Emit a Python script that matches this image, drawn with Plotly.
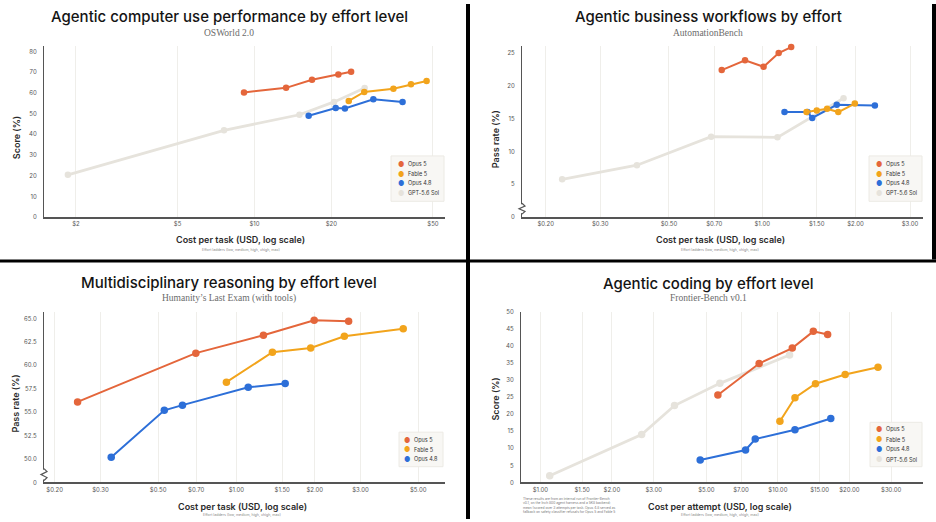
import plotly.graph_objects as go
from plotly.subplots import make_subplots

W, H = 936, 522

ORANGE = "#E4663B"
YELLOW = "#F2A41C"
BLUE = "#2D6FD8"
SOL = "#E6E3DC"

# --- Panel 1: OSWorld 2.0 ---
osw_opus5_x = [9.1, 13.3, 16.8, 21.3, 23.9]
osw_opus5_y = [60.2, 62.4, 66.3, 68.9, 70.2]
osw_fable5_x = [23.4, 26.9, 35.0, 41.0, 47.2]
osw_fable5_y = [56.1, 60.4, 62.0, 64.1, 65.7]
osw_opus48_x = [16.3, 20.8, 22.6, 29.2, 38.0]
osw_opus48_y = [48.9, 52.7, 52.4, 56.9, 55.6]
osw_sol_x = [1.86, 7.6, 15.0, 20.5, 27.0]
osw_sol_y = [20.4, 41.9, 49.4, 55.6, 62.3]

# --- Panel 2: AutomationBench ---
ab_opus5_x = [0.74, 0.88, 1.01, 1.13, 1.24]
ab_opus5_y = [22.4, 23.9, 22.9, 25.0, 25.9]
ab_fable5_x = [1.39, 1.50, 1.62, 1.76, 1.99]
ab_fable5_y = [16.0, 16.25, 16.5, 16.0, 17.3]
ab_opus48_x = [1.18, 1.40, 1.45, 1.74, 2.31]
ab_opus48_y = [16.0, 16.0, 15.1, 17.1, 17.0]
ab_sol_x = [0.226, 0.394, 0.684, 1.12, 1.83]
ab_sol_y = [5.75, 7.9, 12.25, 12.15, 18.1]

# --- Panel 3: Humanity's Last Exam ---
hle_opus5_x = [0.245, 0.698, 1.27, 1.99, 2.70]
hle_opus5_y = [56.1, 61.3, 63.2, 64.8, 64.7]
hle_fable5_x = [0.915, 1.375, 1.93, 2.60, 4.38]
hle_fable5_y = [58.2, 61.4, 61.85, 63.1, 63.9]
hle_opus48_x = [0.330, 0.528, 0.620, 1.11, 1.54]
hle_opus48_y = [50.2, 55.2, 55.75, 57.65, 58.05]

# --- Panel 4: Frontier-Bench ---
fb_opus5_x = [5.59, 8.34, 11.5, 14.1, 16.2]
fb_opus5_y = [25.6, 34.8, 39.3, 44.2, 43.3]
fb_fable5_x = [10.2, 11.8, 14.4, 19.2, 26.4]
fb_fable5_y = [17.9, 24.8, 28.9, 31.6, 33.7]
fb_opus48_x = [4.71, 7.31, 8.03, 11.8, 16.7]
fb_opus48_y = [6.6, 9.5, 12.7, 15.45, 18.7]
fb_sol_x = [1.095, 2.67, 3.67, 5.70, 11.2]
fb_sol_y = [2.0, 14.0, 22.5, 29.0, 37.3]

# tick labels
osw_xticks = [2, 5, 10, 20, 50]
osw_xlabels = ["$2", "$5", "$10", "$20", "$50"]
ab_xticks = [0.2, 0.3, 0.5, 0.7, 1.0, 1.5, 2.0, 3.0]
ab_xlabels = ["$0.20", "$0.30", "$0.50", "$0.70", "$1.00", "$1.50", "$2.00", "$3.00"]
hle_xticks = [0.2, 0.3, 0.5, 0.7, 1.0, 1.5, 2.0, 3.0, 5.0]
hle_xlabels = ["$0.20", "$0.30", "$0.50", "$0.70", "$1.00", "$1.50", "$2.00", "$3.00", "$5.00"]
hle_yticks = [47.5, 50, 52.5, 55, 57.5, 60, 62.5, 65]
hle_ylabels = ["0", "50.0", "52.5", "55.0", "57.5", "60.0", "62.5", "65.0"]
fb_xticks = [1, 1.5, 2, 3, 5, 7, 10, 15, 20, 30]
fb_xlabels = ["$1.00", "$1.50", "$2.00", "$3.00", "$5.00", "$7.00", "$10.00", "$15.00", "$20.00", "$30.00"]

SANS = "Inter, Lato, sans-serif"
SERIF = "Liberation Serif, DejaVu Serif, serif"


def px(x):
    return x / W


def py(y):
    return 1 - y / H


fig = make_subplots(rows=2, cols=2)

panels = [
    (1, 1, [("GPT-5.6 Sol", osw_sol_x, osw_sol_y, SOL),
            ("Opus 4.8", osw_opus48_x, osw_opus48_y, BLUE),
            ("Fable 5", osw_fable5_x, osw_fable5_y, YELLOW),
            ("Opus 5", osw_opus5_x, osw_opus5_y, ORANGE)], 6.5),
    (1, 2, [("GPT-5.6 Sol", ab_sol_x, ab_sol_y, SOL),
            ("Opus 4.8", ab_opus48_x, ab_opus48_y, BLUE),
            ("Fable 5", ab_fable5_x, ab_fable5_y, YELLOW),
            ("Opus 5", ab_opus5_x, ab_opus5_y, ORANGE)], 6.5),
    (2, 1, [("Opus 4.8", hle_opus48_x, hle_opus48_y, BLUE),
            ("Fable 5", hle_fable5_x, hle_fable5_y, YELLOW),
            ("Opus 5", hle_opus5_x, hle_opus5_y, ORANGE)], 7.5),
    (2, 2, [("GPT-5.6 Sol", fb_sol_x, fb_sol_y, SOL),
            ("Opus 4.8", fb_opus48_x, fb_opus48_y, BLUE),
            ("Fable 5", fb_fable5_x, fb_fable5_y, YELLOW),
            ("Opus 5", fb_opus5_x, fb_opus5_y, ORANGE)], 7.5),
]

for row, col, series, msize in panels:
    for name, xs, ys, color in series:
        fig.add_trace(
            go.Scatter(
                x=xs, y=ys, name=name, mode="lines+markers",
                line=dict(color=color, width=2.8 if color == SOL else 2),
                marker=dict(color=color, size=msize),
                cliponaxis=False, showlegend=False,
            ),
            row=row, col=col,
        )

tickfont = dict(family=SANS, size=6, color="#555")
xcommon = dict(type="log", showgrid=True, gridcolor="#EFEEEA", gridwidth=1,
               showline=True, linecolor="#555", linewidth=1.8, ticks="",
               tickfont=tickfont, zeroline=False)
ycommon = dict(showgrid=False, showline=True, linecolor="#555", linewidth=1.2,
               ticks="", tickfont=tickfont, zeroline=False, ticklabelstandoff=5)

# plot areas (pixel positions of the reference)
fig.update_layout(
    xaxis=dict(xcommon, domain=[px(44), px(445)], range=[0.176, 1.746],
               tickvals=osw_xticks, ticktext=osw_xlabels),
    yaxis=dict(ycommon, domain=[py(216), py(43)], range=[0, 82.4],
               tickvals=list(range(0, 81, 10))),
    xaxis2=dict(xcommon, domain=[px(522), px(923)], range=[-0.7755, 0.519],
                tickvals=ab_xticks, ticktext=ab_xlabels),
    yaxis2=dict(ycommon, domain=[py(216), py(43)], range=[0, 26],
                tickvals=list(range(0, 26, 5))),
    xaxis3=dict(xcommon, domain=[px(44), px(445)], range=[-0.740, 0.802],
                tickvals=hle_xticks, ticktext=hle_xlabels),
    yaxis3=dict(ycommon, domain=[py(485), py(311.7)], range=[47.5, 65.74],
                tickvals=hle_yticks, ticktext=hle_ylabels),
    xaxis4=dict(xcommon, domain=[px(521), px(923)], range=[-0.0815, 1.611],
                tickvals=fb_xticks, ticktext=fb_xlabels),
    yaxis4=dict(ycommon, domain=[py(485), py(311.7)], range=[0, 50],
                tickvals=list(range(0, 51, 5))),
)

annotations = []


def text(x, y, s, size, color="#1a1a1a", family=SANS, angle=0, xanchor="center",
         align="center", weight=None):
    font = dict(family=family, size=size, color=color)
    if weight:
        font["weight"] = weight
    annotations.append(dict(
        x=px(x), y=py(y), xref="paper", yref="paper", text=s, showarrow=False,
        font=font, textangle=angle,
        xanchor=xanchor, yanchor="middle", align=align,
    ))


titles = [
    (229, 13, "Agentic computer use performance by effort level", 29, "OSWorld 2.0"),
    (708, 13, "Agentic business workflows by effort", 29, "AutomationBench"),
    (229, 282, "Multidisciplinary reasoning by effort level", 298, "Humanity’s Last Exam (with tools)"),
    (708, 283, "Agentic coding by effort level", 298, "Frontier-Bench v0.1"),
]
for x, y, t, sy, sub in titles:
    text(x, y, t, 15, color="#141414", weight=500)
    text(x, sy, sub, 9.5, color="#6b6b6b", family=SERIF)

xtitles = [
    (241, 239, "Cost per task (USD, log scale)", 249),
    (720, 239, "Cost per task (USD, log scale)", 249),
    (242, 509, "Cost per task (USD, log scale)", 518),
    (720, 509, "Cost per attempt (USD, log scale)", 518),
]
for x, y, t, sy in xtitles:
    text(x, y, t, 9, color="#2a2a2a", weight=600)
    text(x, sy, "Effort ladders (low, medium, high, xhigh, max)", 3.6, color="#888")

ytitles = [(16, 136, "Score (%)"), (495, 137, "Pass rate (%)"),
           (16, 405, "Pass rate (%)"), (496, 401, "Score (%)")]
for x, y, t in ytitles:
    text(x, y, t, 9, color="#2a2a2a", angle=-90, weight=600)

text(521, 508,
     "These results are from an internal run of Frontier-Bench<br>"
     "v0.1, on the Inch 800 agent harness and a 5K8 backend;<br>"
     "mean (scored over 3 attempts per task. Opus 4.8 served as<br>"
     "fallback on safety classifier refusals for Opus 5 and Fable 5",
     3.3, color="#777", xanchor="left", align="left")

# manual legends
legend_boxes = [
    (391, 444, 154, 200, 401, [163, 172.5, 182.3, 192],
     [("Opus 5", ORANGE), ("Fable 5", YELLOW), ("Opus 4.8", BLUE), ("GPT-5.6 Sol", SOL)]),
    (869, 922, 154, 200, 879, [163, 172.5, 182.3, 192],
     [("Opus 5", ORANGE), ("Fable 5", YELLOW), ("Opus 4.8", BLUE), ("GPT-5.6 Sol", SOL)]),
    (399, 443, 434, 469, 407, [442, 451.7, 461.5],
     [("Opus 5", ORANGE), ("Fable 5", YELLOW), ("Opus 4.8", BLUE)]),
    (870, 922, 424, 469, 879, [431.7, 441.7, 452, 462],
     [("Opus 5", ORANGE), ("Fable 5", YELLOW), ("Opus 4.8", BLUE), ("GPT-5.6 Sol", SOL)]),
]
shapes = []
for x0, x1, y0, y1, mx, ys, items in legend_boxes:
    shapes.append(dict(type="rect", xref="paper", yref="paper",
                       x0=px(x0), x1=px(x1), y0=py(y1), y1=py(y0),
                       fillcolor="#F8F7F4", line=dict(color="#ECEAE4", width=1)))
    for (name, color), yy in zip(items, ys):
        text(mx, yy, "●", 7, color=color)
        text(mx + 4.5, yy, name, 5.5, color="#333", xanchor="left")

# y-axis break marks (panels 2 and 3)
for ax, top, bot in [(522, 202, 213), (44, 471, 483)]:
    shapes.append(dict(type="line", xref="paper", yref="paper",
                       x0=px(ax), x1=px(ax), y0=py(bot - 1), y1=py(top + 1),
                       line=dict(color="white", width=3)))
    h = (bot - top) / 4
    path = "M {} {} L {} {} L {} {} L {} {} L {} {}".format(
        px(ax), py(top), px(ax + 3), py(top + h), px(ax - 3), py(top + 2 * h),
        px(ax + 3), py(top + 3 * h), px(ax), py(bot))
    shapes.append(dict(type="path", xref="paper", yref="paper", path=path,
                       line=dict(color="#555", width=1.2)))

# black panel dividers
shapes += [
    dict(type="rect", xref="paper", yref="paper", x0=px(466), x1=px(470), y0=0, y1=1,
         fillcolor="black", line_width=0),
    dict(type="rect", xref="paper", yref="paper", x0=0, x1=1, y0=py(262), y1=py(259),
         fillcolor="black", line_width=0),
    dict(type="rect", xref="paper", yref="paper", x0=px(932), x1=1, y0=py(259), y1=1,
         fillcolor="black", line_width=0),
]

fig.update_layout(
    width=W, height=H,
    margin=dict(l=0, r=0, t=0, b=0),
    paper_bgcolor="white", plot_bgcolor="white",
    font=dict(family=SANS, color="#333"),
    annotations=annotations, shapes=shapes,
    showlegend=False,
)

# the page body has a default 8px margin; drop it so the figure sits at 0,0
fig.write_html("out.html", config={"displayModeBar": False},
               post_script="document.body.style.margin = '0';")
